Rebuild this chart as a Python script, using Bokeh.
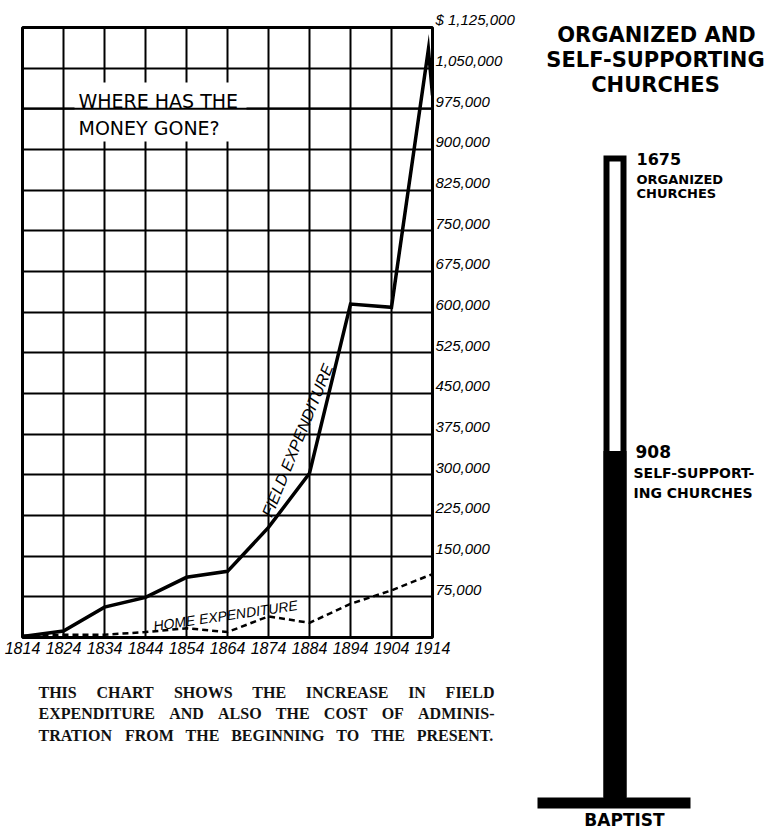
import math
from bokeh.plotting import figure
from bokeh.layouts import row, column
from bokeh.models import Range1d, FixedTicker, Span
from bokeh.core.properties import value
from bokeh.embed import file_html
from bokeh.resources import INLINE

# ---------------- data ----------------
decades = [1814, 1824, 1834, 1844, 1854, 1864, 1874, 1884, 1894, 1904, 1914]
decade_labels = ["1814", "1824", "1834", "1844", "1854", "1864", "1874", "1884", "1894", "1904", "1914"]

field_years = [1814, 1824, 1834, 1844, 1854, 1864, 1874, 1884, 1894, 1904, 1913, 1914]
field_expenditure = [2000, 12000, 56000, 74000, 111000, 122000, 203000, 303000, 615000, 609000, 1085000, 1000000]

home_years = [1814, 1824, 1834, 1844, 1854, 1864, 1874, 1884, 1894, 1904, 1914]
home_expenditure = [3000, 5000, 5000, 10000, 17000, 10000, 39000, 27000, 62000, 87000, 117000]

y_tick_values = [0, 75000, 150000, 225000, 300000, 375000, 450000, 525000, 600000,
                 675000, 750000, 825000, 900000, 975000, 1050000, 1125000]
y_tick_labels = ["", "75,000", "150,000", "225,000", "300,000", "375,000", "450,000", "525,000",
                 "600,000", "675,000", "750,000", "825,000", "900,000", "975,000", "1,050,000",
                 "$ 1,125,000"]

organized_churches = 1675
self_supporting_churches = 908

caption_lines = [
    "THIS CHART SHOWS THE INCREASE IN FIELD",
    "EXPENDITURE AND ALSO THE COST OF ADMINIS-",
    "TRATION FROM THE BEGINNING TO THE PRESENT.",
]

# ---------------- line chart (page pixel layout) ----------------
X0, X1 = 1814, 1914
Y0, Y1 = 0, 1125000
FL, FR, FT, FB = 22, 432, 27, 637   # frame edges in page pixels
A_W, A_H = 528, 668


def ax(px):
    return X0 + (px - FL) * (X1 - X0) / (FR - FL)


def ay(py):
    return Y0 + (FB - py) * (Y1 - Y0) / (FB - FT)


pA = figure(width=A_W, height=A_H, x_range=Range1d(X0, X1), y_range=Range1d(Y0, Y1),
            y_axis_location="right", output_backend="svg", toolbar_location=None,
            min_border_left=FL, min_border_top=FT, min_border_right=A_W - FR,
            min_border_bottom=A_H - FB)
pA.background_fill_color = "white"
pA.border_fill_color = "white"
pA.outline_line_color = "black"
pA.outline_line_width = 3
pA.outline_line_alpha = 1.0

pA.xaxis.ticker = FixedTicker(ticks=decades)
pA.xaxis.major_label_overrides = {d: l for d, l in zip(decades, decade_labels)}
pA.yaxis.ticker = FixedTicker(ticks=y_tick_values)
# trailing blank line lifts each value label to sit just above its rule
pA.yaxis.major_label_overrides = {v: (l + "\n" if l else "") for v, l in zip(y_tick_values, y_tick_labels)}
for axis in (pA.xaxis, pA.yaxis):
    axis.axis_line_color = None
    axis.major_tick_line_color = None
    axis.minor_tick_line_color = None
    axis.major_tick_out = 0
    axis.major_tick_in = 0
    axis.major_label_text_font = "Liberation Sans"
    axis.major_label_text_font_style = "italic"
    axis.major_label_text_color = "black"
pA.xaxis.major_label_text_font_size = "16px"
pA.yaxis.major_label_text_font_size = "15px"
pA.xaxis.major_label_standoff = 4
pA.yaxis.major_label_standoff = 3
pA.yaxis.major_label_text_line_height = 0.9

pA.xgrid.ticker = FixedTicker(ticks=decades)
pA.ygrid.ticker = FixedTicker(ticks=y_tick_values)
for g in (pA.xgrid, pA.ygrid):
    g.grid_line_color = "black"
    g.grid_line_width = 2
    g.grid_line_alpha = 1.0

# white box behind the heading (interrupts vertical rules)
pA.quad(left=[ax(74)], right=[ax(246)], top=[ay(82)], bottom=[ay(141)],
        fill_color="white", line_color=None)
pA.add_layout(Span(location=y_tick_values[13], dimension="width", line_color="black", line_width=2))

pA.text(x=[ax(78), ax(78)], y=[ay(100), ay(127)], text=["WHERE HAS THE", "MONEY GONE?"],
        text_font=value("DejaVu Sans"), text_font_size="19px", text_color="black",
        text_align="left", text_baseline="middle")

pA.line(field_years, field_expenditure, line_color="black", line_width=3.5, line_join="miter")
pA.line(home_years, home_expenditure, line_color="black", line_width=2.5, line_dash="6 4")

pA.text(x=[ax(297)], y=[ay(440)], text=["FIELD EXPENDITURE"], angle=[math.radians(67.8)],
        text_font=value("Liberation Sans"), text_font_style="italic", text_font_size="16px",
        text_color="black", text_align="center", text_baseline="middle")
pA.text(x=[ax(225)], y=[ay(615)], text=["HOME EXPENDITURE"], angle=[math.radians(8.3)],
        text_font=value("Liberation Sans"), text_font_style="italic", text_font_size="14px",
        text_color="black", text_align="center", text_baseline="middle")

# ---------------- caption (justified words) ----------------
C_TOP, C_H = A_H, 160
pC = figure(width=A_W, height=C_H, x_range=Range1d(0, A_W), y_range=Range1d(C_TOP + C_H, C_TOP),
            x_axis_location=None, y_axis_location=None, output_backend="svg",
            toolbar_location=None, min_border=0)
pC.outline_line_color = None
pC.grid.visible = False

TIMES_BOLD = {"A": .722, "B": .667, "C": .722, "D": .722, "E": .667, "F": .611, "G": .778,
              "H": .778, "I": .389, "J": .5, "K": .778, "L": .667, "M": .944, "N": .722,
              "O": .778, "P": .611, "Q": .778, "R": .722, "S": .556, "T": .667, "U": .722,
              "V": .722, "W": 1.0, "X": .722, "Y": .722, "Z": .667, "-": .333, ".": .25}
CAP_SIZE = 16
cx, cy, cw = [], [], []
line_mids = [692, 713, 735]
left_px, right_px = 38, 494
for ln, py in zip(caption_lines, line_mids):
    words = ln.split()
    widths = [sum(TIMES_BOLD.get(c, .6) for c in w) * CAP_SIZE for w in words]
    gap = (right_px - left_px - sum(widths)) / (len(words) - 1)
    xpos = left_px
    for w, wd in zip(words, widths):
        cx.append(xpos)
        cy.append(py)
        cw.append(w)
        xpos += wd + gap
pC.text(x=cx, y=cy, text=cw, text_font=value("Liberation Serif"), text_font_style="bold",
        text_font_size=f"{CAP_SIZE}px", text_color="#111111", text_align="left",
        text_baseline="middle")

# ---------------- church thermometer ----------------
B_X0 = A_W
B_W, B_H = 243, 828
BASE_PY, TOP_PY = 797, 158
K = (BASE_PY - TOP_PY) / organized_churches


def by(py):
    return (BASE_PY - py) / K


def bx(px):
    return px - B_X0


pB = figure(width=B_W, height=B_H, x_range=Range1d(0, B_W), y_range=Range1d(by(B_H), by(0)),
            x_axis_location=None, y_axis_location=None, output_backend="svg",
            toolbar_location=None, min_border=0)
pB.outline_line_color = None
pB.grid.visible = False

pB.text(x=[bx(656), bx(655), bx(655)], y=[by(34), by(59), by(84)],
        text=["ORGANIZED AND", "SELF-SUPPORTING", "CHURCHES"],
        text_font=value("DejaVu Sans"), text_font_style="bold", text_font_size="21px",
        text_color="black", text_align="center", text_baseline="middle")

pB.quad(left=[bx(606)], right=[bx(623)], bottom=[0], top=[organized_churches],
        fill_color="white", line_color="black", line_width=6, line_join="miter")
pB.quad(left=[bx(603)], right=[bx(626)], bottom=[0], top=[self_supporting_churches],
        fill_color="black", line_color=None)
pB.quad(left=[bx(537)], right=[bx(690)], top=[0], bottom=[by(808)],
        fill_color="black", line_color=None)

ss_py = BASE_PY - self_supporting_churches * K
pB.text(x=[bx(636)], y=[organized_churches], text=[str(organized_churches)],
        text_font=value("DejaVu Sans"), text_font_style="bold", text_font_size="16px",
        text_color="black", text_align="left", text_baseline="middle")
pB.text(x=[bx(636), bx(636)], y=[by(TOP_PY + 21), by(TOP_PY + 35)],
        text=["ORGANIZED", "CHURCHES"],
        text_font=value("DejaVu Sans"), text_font_style="bold", text_font_size="13px",
        text_color="black", text_align="left", text_baseline="middle")
pB.text(x=[bx(635)], y=[self_supporting_churches], text=[str(self_supporting_churches)],
        text_font=value("DejaVu Sans"), text_font_style="bold", text_font_size="17px",
        text_color="black", text_align="left", text_baseline="middle")
pB.text(x=[bx(633), bx(633)], y=[by(ss_py + 22), by(ss_py + 42)],
        text=["SELF-SUPPORT-", "ING CHURCHES"],
        text_font=value("DejaVu Sans"), text_font_style="bold", text_font_size="14px",
        text_color="black", text_align="left", text_baseline="middle")
pB.text(x=[bx(624)], y=[by(819)], text=["BAPTIST"],
        text_font=value("DejaVu Sans"), text_font_style="bold", text_font_size="17px",
        text_color="black", text_align="center", text_baseline="middle")

layout = row(column(pA, row(pC)), pB)
open("out.html", "w").write(file_html(layout, INLINE))
